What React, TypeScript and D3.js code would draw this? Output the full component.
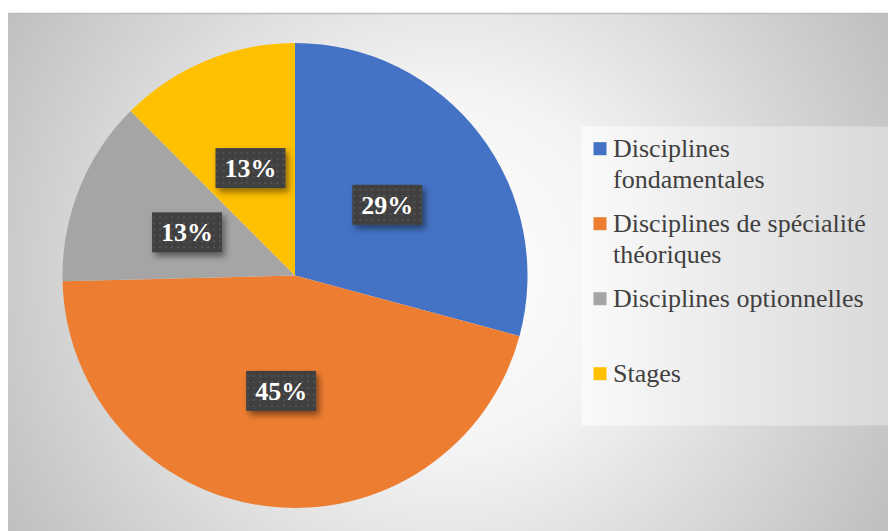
import React from "react";
import * as d3 from "d3";

const categories = [
  "Disciplines fondamentales",
  "Disciplines de spécialité théoriques",
  "Disciplines optionnelles",
  "Stages",
];
const values = [29.2, 45.4, 12.9, 12.5];
const legendLines = [
  ["Disciplines", "fondamentales"],
  ["Disciplines de spécialité", "théoriques"],
  ["Disciplines optionnelles"],
  ["Stages"],
];
const colors = ["#4472C4", "#ED7D31", "#A5A5A5", "#FFC000"];

const W = 888;
const H = 531;
const FONT = '"Liberation Serif", "Times New Roman", Tinos, "DejaVu Serif", serif';

export default function App() {
  const cx = 295;
  const cy = 275.5;
  const r = 232.5;
  const total = d3.sum(values);
  const pie = d3.pie<number>().sort(null).value((d) => d);
  const arcs = pie(values);
  const arcGen = d3.arc<d3.PieArcDatum<number>>().innerRadius(0).outerRadius(r);
  const fmt = (v: number) => `${Math.round((v / total) * 100)}%`;

  const legendX = 593.5;
  const legendY0 = 156.7;
  const legendStep = 75;

  return (
    <svg
      width={W}
      height={H}
      style={{ position: "absolute", left: 0, top: 0, display: "block", fontFamily: FONT }}
    >
      <defs>
        <radialGradient id="bg" cx={445} cy={272} r={510} gradientUnits="userSpaceOnUse">
          <stop offset="0" stopColor="#ffffff" />
          <stop offset="0.35" stopColor="#f4f4f4" />
          <stop offset="1" stopColor="#bfbfbf" />
        </radialGradient>
        <linearGradient id="legbg" x1="0" y1="0" x2="1" y2="0">
          <stop offset="0" stopColor="#fafafa" />
          <stop offset="1" stopColor="#d9d9d9" />
        </linearGradient>
        <pattern id="dots" width={6} height={6} patternUnits="userSpaceOnUse">
          <rect width={6} height={6} fill="#404040" />
          <circle cx={3} cy={3} r={1.1} fill="#575757" />
        </pattern>
        <filter id="shadow" x="-30%" y="-30%" width="170%" height="180%">
          <feDropShadow dx={3} dy={4} stdDeviation={3} floodColor="#000" floodOpacity={0.45} />
        </filter>
      </defs>
      <rect x={0} y={0} width={W} height={H} fill="#ffffff" />
      <rect x={8} y={13} width={W - 8} height={H - 13} fill="url(#bg)" />
      <line x1={8} x2={W} y1={13.5} y2={13.5} stroke="#bdbdbd" strokeWidth={1.5} />

      <g transform={`translate(${cx},${cy})`}>
        {arcs.map((a, i) => (
          <path key={categories[i]} d={arcGen(a) || ""} fill={colors[i]} />
        ))}
        {arcs.map((a, i) => {
          const [lx, ly] = arcGen.centroid(a);
          const bw = 70;
          const bh = 40;
          return (
            <g key={"lab" + i} transform={`translate(${lx},${ly})`}>
              <rect
                x={-bw / 2}
                y={-bh / 2}
                width={bw}
                height={bh}
                fill="url(#dots)"
                filter="url(#shadow)"
              />
              <text
                x={0}
                y={9}
                textAnchor="middle"
                fill="#ffffff"
                style={{ fontFamily: FONT, fontWeight: 700, fontSize: "26px" }}
              >
                {fmt(values[i])}
              </text>
            </g>
          );
        })}
      </g>

      <rect x={581.5} y={126.5} width={W - 581.5} height={299} fill="url(#legbg)" />
      {legendLines.map((lines, i) => {
        const by = legendY0 + i * legendStep;
        return (
          <g key={"leg" + i}>
            <rect x={legendX} y={by - 14.5} width={13} height={13} fill={colors[i]} />
            <text
              x={613}
              y={by}
              fill="#404040"
              style={{ fontFamily: FONT, fontSize: "26px" }}
            >
              {lines.map((ln, j) => (
                <tspan key={j} x={613} y={by + j * 31.6}>
                  {ln}
                </tspan>
              ))}
            </text>
          </g>
        );
      })}
    </svg>
  );
}
